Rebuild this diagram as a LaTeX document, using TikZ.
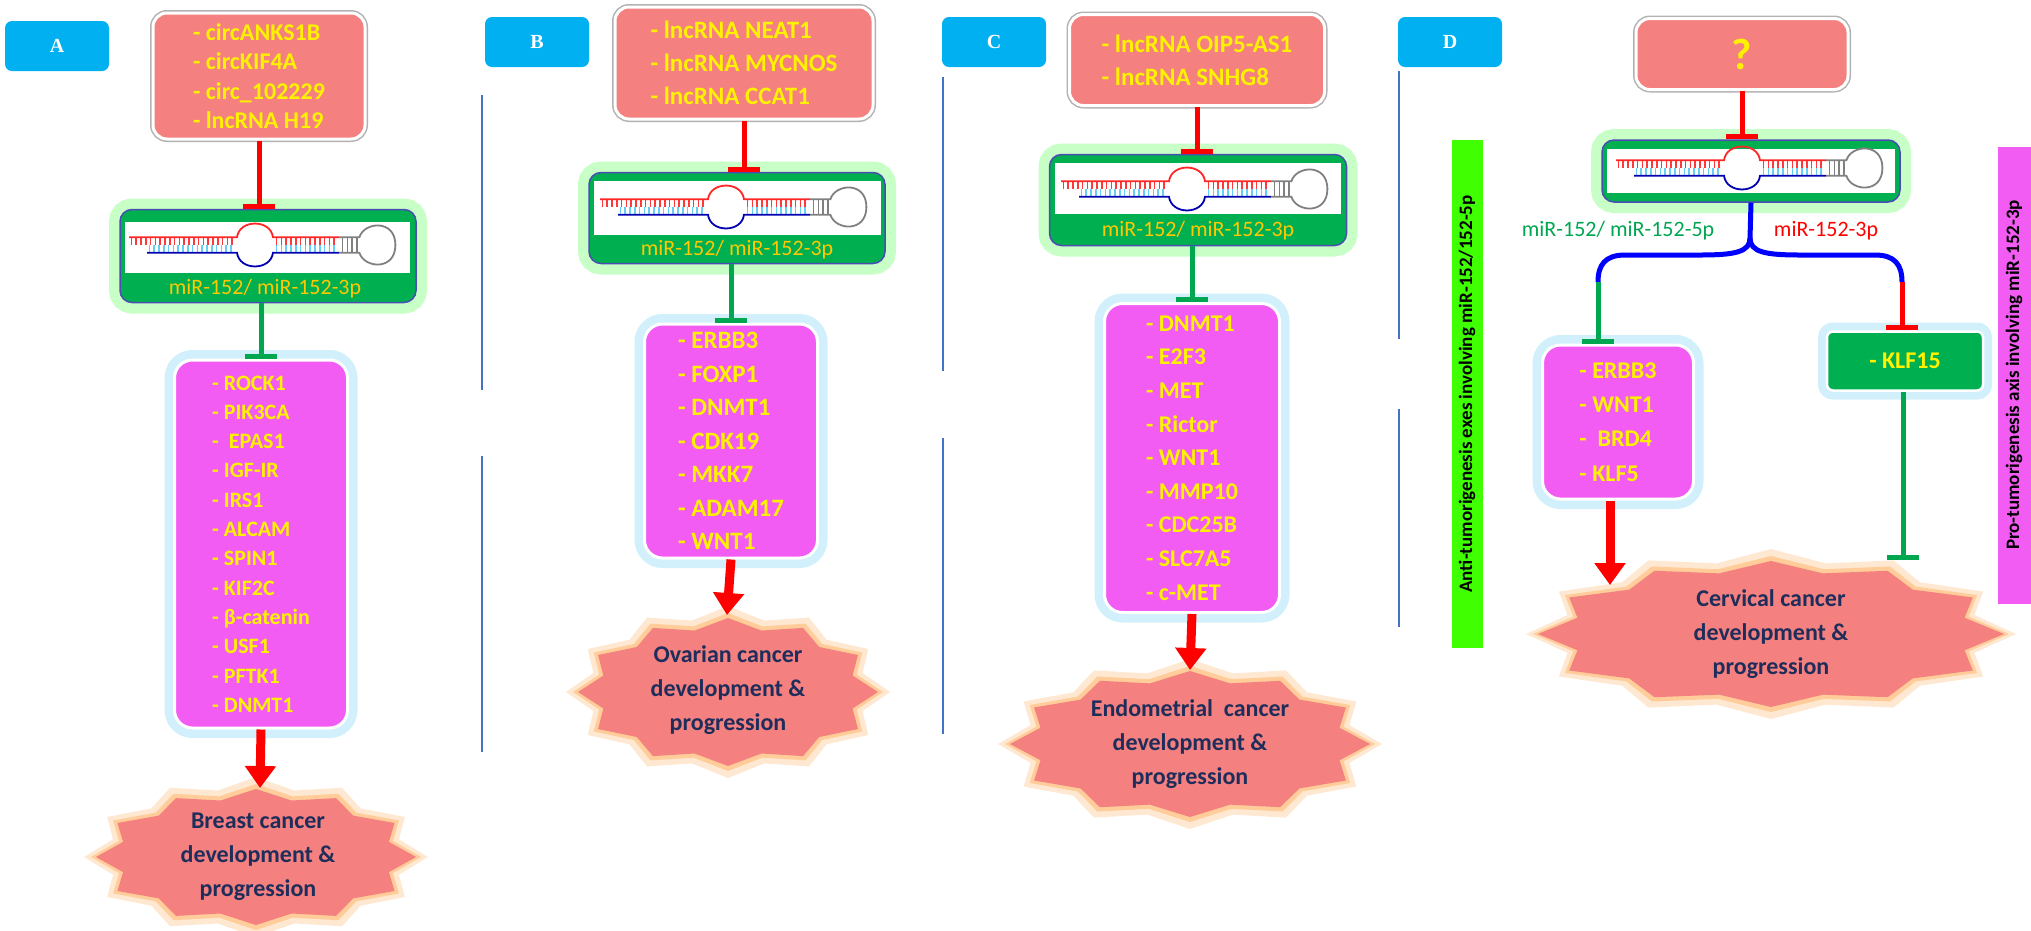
\documentclass[tikz,border=0pt]{standalone}
\usepackage{fontspec}
\setmainfont{Carlito}
\newfontfamily\serifb{Liberation Serif}
\usetikzlibrary{arrows.meta}
\definecolor{labblue}{RGB}{0,176,240}
\definecolor{salmon}{RGB}{244,128,128}
\definecolor{mgreen}{RGB}{0,176,80}
\definecolor{magen}{RGB}{243,92,243}
\definecolor{navy}{RGB}{31,45,90}
\definecolor{gold}{RGB}{255,200,0}
\definecolor{sepc}{RGB}{68,114,196}
\definecolor{tred}{RGB}{255,0,0}
\definecolor{tgrn}{RGB}{0,166,80}
\tikzset{
 lab/.style={fill=labblue,rounded corners=7pt,minimum width=104pt,minimum height=50pt,text=white,font=\serifb\bfseries\fontsize{20}{22}\selectfont},
 src/.style={fill=salmon,draw=white,line width=3pt,rounded corners=14pt,preaction={draw=black!30,line width=6pt},text=yellow,align=left,font=\bfseries\fontsize{24}{29.5}\selectfont},
 mir/.style={fill=mgreen,draw=blue!40!gray,line width=1.5pt,rounded corners=12pt,preaction={draw=green!22,line width=22pt}},
 tgt/.style={fill=magen,draw=white,line width=3pt,rounded corners=18pt,preaction={draw=cyan!18,line width=20pt},text=yellow,align=left},
 mlab/.style={text=gold,font=\fontsize{22}{24}\selectfont},
 sttx/.style={text=navy,align=center,font=\bfseries\fontsize{24}{34}\selectfont},
 inhR/.style={draw=tred,line width=5pt,-{Bar[width=32pt,line width=5pt]}},
 inhG/.style={draw=tgrn,line width=5pt,-{Bar[width=32pt,line width=5pt]}},
 act/.style={draw=tred,line width=9pt,-{Triangle[width=30pt,length=22pt]}},
 sep/.style={draw=sepc,line width=1.2pt},
}
\newcommand{\hairpin}[3]{%
\begin{scope}[shift={(#1,#2)},xscale=#3,yscale=1.3,line width=1.8pt]
 \foreach \x in {-108,-104,...,-23}{\draw[red!70!pink,line width=1.6pt] (\x,-6)--(\x,0);}
 \foreach \x in {-93,-89,...,-23}{\draw[cyan!60,line width=1.6pt] (\x,0)--(\x,6);}
 \foreach \x in {13,17,...,63}{\draw[red!70!pink,line width=1.6pt] (\x,-6)--(\x,0);\draw[cyan!60,line width=1.6pt] (\x,0)--(\x,6);}
 \foreach \x in {68,72,76,80}{\draw[gray,line width=1.6pt] (\x,-6)--(\x,6);}
 \draw[red!80!pink] (-110,-6)--(-20,-6) .. controls (-18,-20) and (8,-20) .. (10,-6)--(65,-6);
 \draw[blue!70!black] (-95,6)--(-20,6) .. controls (-18,20) and (8,20) .. (10,6)--(65,6);
 \draw[gray] (65,-6)--(82,-6) .. controls (86,-18) and (112,-20) .. (112,0) .. controls (112,20) and (86,18) .. (82,6)--(65,6);
\end{scope}}
\newcommand{\starshape}[4]{%
 \fill[orange!30,opacity=0.6] plot[samples at={0,15,...,345},variable=\t] ({#1+(#3+12)*ifthenelse(mod(\t,30)==0,1,0.86)*cos(\t)},{#2+(#4+12)*ifthenelse(mod(\t,30)==0,1,0.86)*sin(\t)}) -- cycle;
 \fill[orange!45,opacity=0.8] plot[samples at={0,15,...,345},variable=\t] ({#1+(#3+5)*ifthenelse(mod(\t,30)==0,1,0.86)*cos(\t)},{#2+(#4+5)*ifthenelse(mod(\t,30)==0,1,0.86)*sin(\t)}) -- cycle;
 \fill[salmon] plot[samples at={0,15,...,345},variable=\t] ({#1+#3*ifthenelse(mod(\t,30)==0,1,0.86)*cos(\t)},{#2+#4*ifthenelse(mod(\t,30)==0,1,0.86)*sin(\t)}) -- cycle;}
\begin{document}
\begin{tikzpicture}[x=1pt,y=-1pt]
\useasboundingbox (0,0) rectangle (2031,930);
% separators
\draw[sep] (482,95)--(482,390) (482,456)--(482,752);
\draw[sep] (943,77)--(943,371) (943,438)--(943,734);
\draw[sep] (1399,71)--(1399,339) (1399,409)--(1399,627);
% ---------- A
\node[lab] (labA) at (57,46) {A};
\node[src,minimum width=212pt,minimum height=126pt] (srcA) at (259,76) {- circANKS1B\\- circKIF4A\\- circ\_102229\\- lncRNA H19};
\node[mir,minimum width=296pt,minimum height=93pt] (mirA) at (268,256) {};
\fill[white] (125,222) rectangle (410,273);
\hairpin{261}{245}{1.2}
\node[mlab] (mlA) at (265,289) {miR-152/ miR-152-3p};
\node[tgt,minimum width=173pt,minimum height=368pt,font=\bfseries\fontsize{22}{29.3}\selectfont] (tgtA) at (261,544) {- ROCK1\\- PIK3CA\\-\ \ EPAS1\\- IGF-IR\\- IRS1\\- ALCAM\\- SPIN1\\- KIF2C\\- β-catenin\\- USF1\\- PFTK1\\- DNMT1};
\starshape{256}{857}{160}{68}
\node[sttx] (stA) at (258,857) {Breast cancer\\development \&\\progression};
\draw[inhR] (srcA.south) -- (srcA.south |- mirA.north);
\draw[inhG] (mirA.south -| tgtA.north) -- (tgtA.north);
\draw[act] (tgtA.south) -- (260,788);
% ---------- B
\node[lab] (labB) at (537,42) {B};
\node[src,minimum width=258pt,minimum height=112pt,font=\bfseries\fontsize{25}{33}\selectfont] (srcB) at (744,63) {- lncRNA NEAT1\\- lncRNA MYCNOS\\- lncRNA CCAT1};
\node[mir,minimum width=296pt,minimum height=91pt] (mirB) at (737,218) {};
\fill[white] (594,181) rectangle (881,235);
\hairpin{732}{207}{1.2}
\node[mlab] (mlB) at (737,250) {miR-152/ miR-152-3p};
\node[tgt,minimum width=173pt,minimum height=234pt,font=\bfseries\fontsize{25}{33.5}\selectfont] (tgtB) at (731,441) {- ERBB3\\- FOXP1\\- DNMT1\\- CDK19\\- MKK7\\- ADAM17\\- WNT1};
\starshape{728}{692}{150}{74}
\node[sttx] (stB) at (728,690) {Ovarian cancer\\development \&\\progression};
\draw[inhR] (srcB.south) -- (srcB.south |- mirB.north);
\draw[inhG] (mirB.south -| tgtB.north) -- (tgtB.north);
\draw[act] (tgtB.south) -- (727,615);
% ---------- C
\node[lab] (labC) at (994,42) {C};
\node[src,minimum width=255pt,minimum height=91pt,font=\bfseries\fontsize{25}{33}\selectfont] (srcC) at (1197,60) {- lncRNA OIP5-AS1\\- lncRNA SNHG8};
\node[mir,minimum width=297pt,minimum height=91pt] (mirC) at (1198,200) {};
\fill[white] (1055,163) rectangle (1341,214);
\hairpin{1193}{189}{1.2}
\node[mlab] (mlC) at (1198,231) {miR-152/ miR-152-3p};
\node[tgt,minimum width=175pt,minimum height=309pt,font=\bfseries\fontsize{24}{33.6}\selectfont] (tgtC) at (1192,458) {- DNMT1\\- E2F3\\- MET\\- Rictor\\- WNT1\\- MMP10\\- CDC25B\\- SLC7A5\\- c-MET};
\starshape{1190}{744}{180}{73}
\node[sttx] (stC) at (1190,744) {Endometrial\ \ cancer\\development \&\\progression};
\draw[inhR] (srcC.south) -- (srcC.south |- mirC.north);
\draw[inhG] (mirC.south -| tgtC.north) -- (tgtC.north);
\draw[act] (tgtC.south) -- (1190,670);
% ---------- D
\node[lab] (labD) at (1450,42) {D};
\node[src,minimum width=212pt,minimum height=71pt,font=\bfseries\fontsize{44}{46}\selectfont] (srcD) at (1742,54) {?};
\node[mir,minimum width=298pt,minimum height=62pt] (mirD) at (1751,171) {};
\fill[white] (1607,149) rectangle (1895,193);
\hairpin{1748}{168}{1.2}
\coordinate (fork) at (1750,238);
\coordinate (lend) at (1598,282);
\coordinate (rend) at (1902,282);
\draw[blue,line width=5pt] (mirD.south) -- (fork) .. controls (1750,252) and (1735,255) .. (1700,255) -- (1625,255) .. controls (1605,255) and (1598,265) .. (lend);
\draw[blue,line width=5pt] (fork) .. controls (1750,252) and (1765,255) .. (1800,255) -- (1875,255) .. controls (1895,255) and (1902,265) .. (rend);
\node[text=tgrn,font=\fontsize{22}{24}\selectfont] (l5p) at (1618,231) {miR-152/ miR-152-5p};
\node[text=tred,font=\fontsize{22}{24}\selectfont] (l3p) at (1826,231) {miR-152-3p};
\node[tgt,minimum width=151pt,minimum height=154pt,font=\bfseries\fontsize{24}{34.3}\selectfont] (tgtD) at (1618,422) {- ERBB3\\- WNT1\\-\ \ BRD4\\- KLF5};
\node[fill=mgreen,draw=white,line width=2.5pt,rounded corners=6pt,preaction={draw=cyan!18,line width=18pt},minimum width=156pt,minimum height=59pt,text=yellow,font=\bfseries\fontsize{24}{26}\selectfont] (klf) at (1905,361) {- KLF15};
\draw[inhG] (lend) -- (lend |- tgtD.north);
\draw[inhR] (rend) -- (rend |- klf.north);
\starshape{1771}{634}{233}{73}
\node[sttx] (stD) at (1771,634) {Cervical cancer\\development \&\\progression};
\coordinate (stDl) at (1610,585);
\coordinate (stDr) at (1903,560);
\draw[act] (tgtD.south -| stDl) -- (stDl);
\draw[inhG] (klf.south -| stDr) -- (stDr);
\draw[inhR] (srcD.south) -- (srcD.south |- mirD.north);
\node[fill=green!75!yellow,rotate=90,minimum width=508pt,minimum height=31pt,font=\bfseries\fontsize{19}{21}\selectfont] (antiL) at (1467,394) {Anti-tumorigenesis exes involving miR-152/152-5p};
\node[fill=magen,rotate=90,minimum width=457pt,minimum height=33pt,font=\bfseries\fontsize{19}{21}\selectfont] (proL) at (2014,375) {Pro-tumorigenesis axis involving miR-152-3p};
\end{tikzpicture}
\end{document}
